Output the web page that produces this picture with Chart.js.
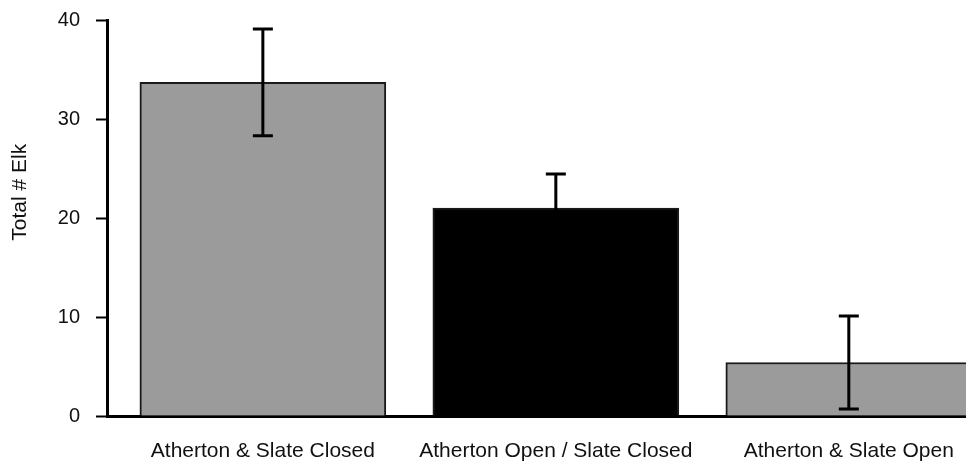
<!DOCTYPE html>
<html>
<head>
<meta charset="utf-8">
<script src="https://cdn.jsdelivr.net/npm/chart.js@4"></script>
<style>
  html, body { margin: 0; padding: 0; background: #fff; overflow: hidden; }
  #wrap { width: 966px; height: 465px; position: relative; }
</style>
</head>
<body>
<div id="wrap"><canvas id="c"></canvas></div>
<script>
// Elk counts per road-closure treatment (mean with error bars)
const categories = ['Atherton & Slate Closed', 'Atherton Open / Slate Closed', 'Atherton & Slate Open'];
const meanElk = [33.7, 21.0, 5.4];
const errorElk = [5.4, 3.45, 4.7];
const barColors = ['#9b9b9b', '#000000', '#9b9b9b'];
const yTicks = [0, 10, 20, 30, 40];
const yTitle = 'Total # Elk';

const FONT = "'Liberation Sans', Arial, Helvetica, sans-serif";

// whiskers with end caps, drawn from the mean +/- error values
const errorBars = {
  id: 'errorBars',
  afterDatasetsDraw(chart) {
    const { ctx, scales: { x, y } } = chart;
    ctx.save();
    ctx.strokeStyle = '#000';
    ctx.lineWidth = 3;
    ctx.lineCap = 'butt';
    meanElk.forEach((m, i) => {
      const px = x.getPixelForValue(i);
      const top = y.getPixelForValue(m + errorElk[i]);
      const bot = y.getPixelForValue(m - errorElk[i]);
      ctx.beginPath();
      ctx.moveTo(px, top); ctx.lineTo(px, bot);
      ctx.moveTo(px - 10, top); ctx.lineTo(px + 10, top);
      ctx.moveTo(px - 10, bot); ctx.lineTo(px + 10, bot);
      ctx.stroke();
    });
    ctx.restore();
  }
};

// rotated y-axis title, set a little above the middle of the axis
const yAxisTitle = {
  id: 'yAxisTitle',
  afterDraw(chart) {
    const { ctx, chartArea } = chart;
    const cy = chartArea.top + (chartArea.bottom - chartArea.top) * 0.435;
    ctx.save();
    ctx.translate(20, cy);
    ctx.rotate(-Math.PI / 2);
    ctx.font = '21px ' + FONT;
    ctx.fillStyle = '#111';
    ctx.textAlign = 'center';
    ctx.textBaseline = 'middle';
    ctx.fillText(yTitle, 0, 0);
    ctx.restore();
  }
};

new Chart(document.getElementById('c'), {
  type: 'bar',
  data: {
    datasets: [{
      data: categories.map((c, i) => ({ x: i, y: meanElk[i] })),
      backgroundColor: barColors,
      borderColor: '#1a1a1a',
      borderWidth: 2,
      barThickness: 246
    }]
  },
  options: {
    responsive: true,
    maintainAspectRatio: false,
    animation: false,
    layout: { padding: { top: 20, right: 0, bottom: 1, left: 0 } },
    plugins: { legend: { display: false }, tooltip: { enabled: false } },
    scales: {
      x: {
        type: 'linear',
        min: -0.532,
        max: 2.4,
        offset: false,
        z: 1,
        afterBuildTicks(scale) { scale.ticks = categories.map((c, i) => ({ value: i })); },
        afterFit(scale) {
          scale.height = 48;
          scale.paddingLeft = 0;
          scale.paddingRight = 0;
        },
        grid: { display: false, drawTicks: false, offset: false },
        border: { display: true, color: '#000', width: 3 },
        ticks: {
          autoSkip: false,
          maxRotation: 0,
          padding: 23,
          color: '#111',
          font: { family: FONT, size: 21 },
          callback: (v) => categories[v]
        }
      },
      y: {
        min: 0,
        max: 40,
        afterBuildTicks(scale) { scale.ticks = yTicks.map(v => ({ value: v })); },
        afterFit(scale) {
          scale.width = 107;
          scale.paddingTop = 0;
          scale.paddingBottom = 0;
        },
        grid: { drawOnChartArea: false, drawTicks: true, tickLength: 11, tickWidth: 2, tickColor: '#000' },
        border: { display: true, color: '#000', width: 3 },
        ticks: {
          padding: 16,
          color: '#111',
          font: { family: FONT, size: 20 }
        }
      }
    }
  },
  plugins: [errorBars, yAxisTitle]
});
</script>
</body>
</html>
